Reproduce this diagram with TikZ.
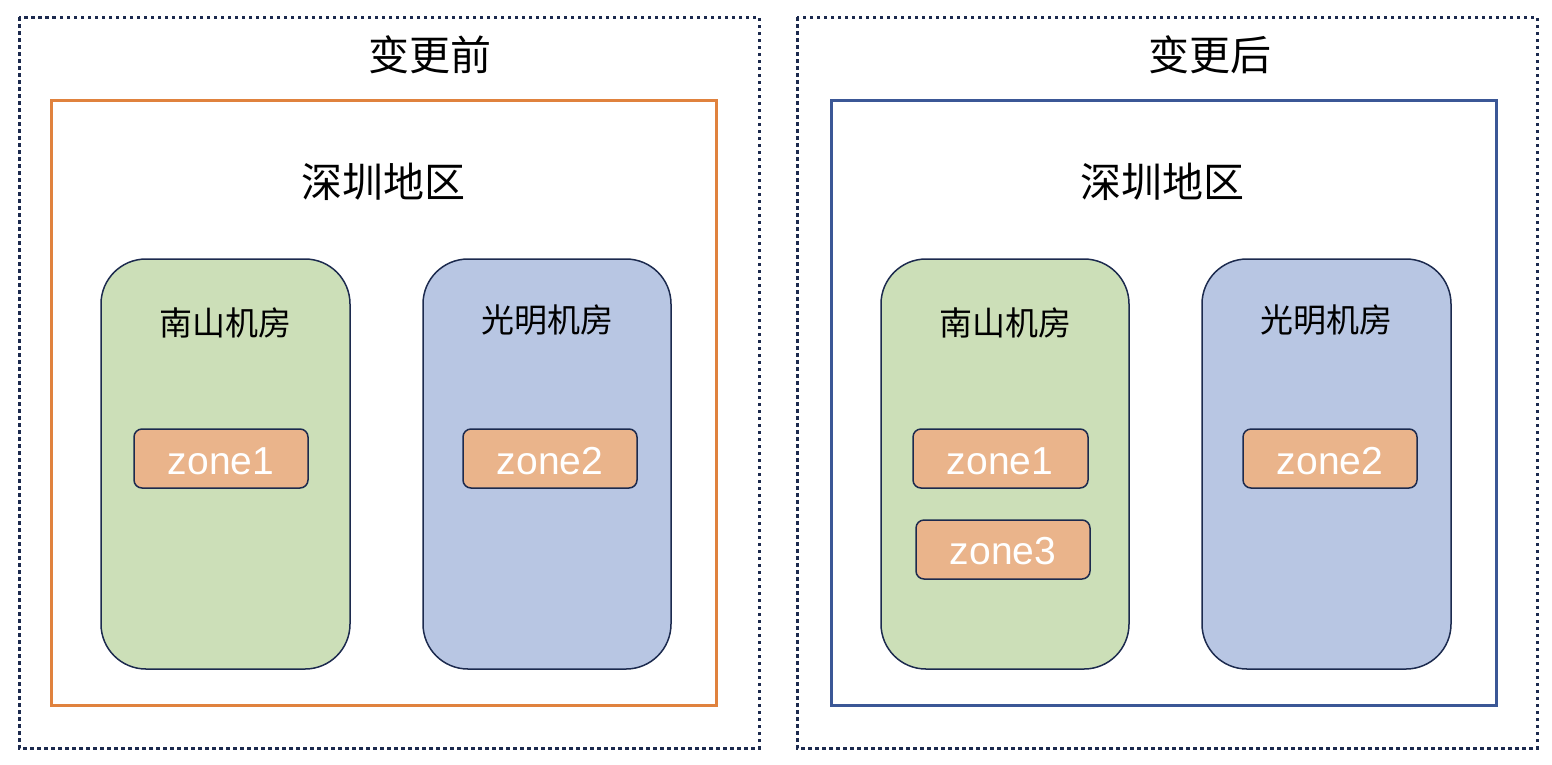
\documentclass[tikz,border=0pt]{standalone}
\usepackage{fontspec}
\setmainfont{Liberation Sans}
\newfontfamily\cjk{Noto Sans CJK SC}
\definecolor{dark}{HTML}{1C2A4E}
\definecolor{orng}{HTML}{E0823E}
\definecolor{blu}{HTML}{3B5796}
\definecolor{gfill}{HTML}{CCDFB8}
\definecolor{bfill}{HTML}{B8C6E3}
\definecolor{zfill}{HTML}{EAB48B}
\tikzset{
  outerbox/.style={draw=dark, line width=3pt, dash pattern=on 3.5pt off 3.5pt},
  region/.style={line width=3pt},
  room/.style={draw=dark, line width=1.5pt, rounded corners=45pt},
  zonebox/.style={draw=dark, fill=zfill, line width=1.5pt, rounded corners=8pt},
  ztext/.style={text=white, font=\fontsize{39}{44}\selectfont},
  bigt/.style={font=\cjk\fontsize{41}{46}\selectfont},
  roomt/.style={font=\cjk\fontsize{33}{38}\selectfont},
}
\begin{document}
\begin{tikzpicture}[x=1pt,y=-1pt]
\useasboundingbox (0,0) rectangle (1552,764);
% outer dotted frames
\draw[outerbox] (19,17) rectangle (759,748);
\draw[outerbox] (797,17) rectangle (1537,748);
\node[bigt] (t1) at (430,55) {变更前};
\node[bigt] (t2) at (1210,55) {变更后};
% region boxes
\draw[region, draw=orng] (51,100) rectangle (716,705);
\draw[region, draw=blu] (831,100) rectangle (1496,705);
\node[bigt] (r1) at (383,182) {深圳地区};
\node[bigt] (r2) at (1162,182) {深圳地区};
% rooms left
\draw[room, fill=gfill] (101,259) rectangle (350,669);
\draw[room, fill=bfill] (423,259) rectangle (671,669);
\node[roomt] (n1) at (225,323) {南山机房};
\node[roomt] (g1) at (547,320) {光明机房};
% rooms right
\draw[room, fill=gfill] (881,259) rectangle (1129,669);
\draw[room, fill=bfill] (1202,259) rectangle (1451,669);
\node[roomt] (n2) at (1005,323) {南山机房};
\node[roomt] (g2) at (1326,320) {光明机房};
% zones
\draw[zonebox] (134,429) rectangle (308,488);
\node[ztext] (z1a) at (221,461) {zone1};
\draw[zonebox] (463,429) rectangle (637,488);
\node[ztext] (z2a) at (550,461) {zone2};
\draw[zonebox] (913,429) rectangle (1088,488);
\node[ztext] (z1b) at (1000,461) {zone1};
\draw[zonebox] (916,520) rectangle (1090,579);
\node[ztext] (z3b) at (1003,551) {zone3};
\draw[zonebox] (1243,429) rectangle (1417,488);
\node[ztext] (z2b) at (1330,461) {zone2};
\end{tikzpicture}
\end{document}
